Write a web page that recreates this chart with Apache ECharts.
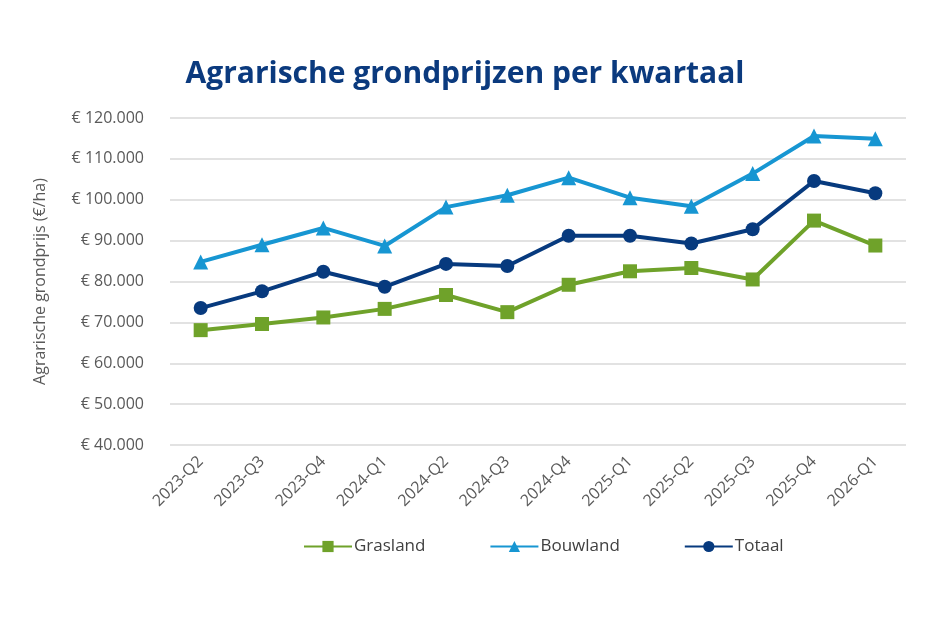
<!DOCTYPE html>
<html>
<head>
<meta charset="utf-8">
<script src="https://cdn.jsdelivr.net/npm/echarts@6/dist/echarts.min.js"></script>
<style>
  html, body { margin: 0; padding: 0; background: #fff; }
  #chart { width: 930px; height: 620px; }
</style>
</head>
<body>
<div id="chart"></div>
<script>
const kwartalen = ['2023-Q2', '2023-Q3', '2023-Q4', '2024-Q1', '2024-Q2', '2024-Q3',
    '2024-Q4', '2025-Q1', '2025-Q2', '2025-Q3', '2025-Q4', '2026-Q1'];
const grasland = [68100, 69600, 71200, 73300, 76700, 72500, 79200, 82500, 83300, 80500, 94900, 88800];
const bouwland = [84800, 89000, 93100, 88700, 98200, 101100, 105400, 100500, 98400, 106400, 115600, 114900];
const totaal = [73500, 77600, 82400, 78700, 84300, 83800, 91200, 91200, 89300, 92800, 104600, 101600];

const fontFam = '"Open Sans", "Noto Sans", sans-serif';

const chart = echarts.init(document.getElementById('chart'));

function lijn(name, data, color, symbol, size) {
    return {
        name: name,
        type: 'line',
        data: data,
        symbol: symbol,
        symbolSize: size,
        lineStyle: { color: color, width: 4 },
        itemStyle: { color: color },
        emphasis: { disabled: true }
    };
}

chart.setOption({
    animation: false,
    title: {
        text: 'Agrarische grondprijzen per kwartaal',
        left: 'center',
        top: 54,
        textStyle: { color: '#0b3a7e', fontSize: 30, fontWeight: 'bold', fontFamily: fontFam }
    },
    grid: { left: 170, right: 24, top: 118, bottom: 175 },
    legend: {
        bottom: 60,
        left: 298,
        itemWidth: 48,
        itemHeight: 14,
        itemGap: 64,
        textStyle: { color: '#404040', fontSize: 17, fontFamily: fontFam, padding: [0, 0, 0, -3] },
        data: ['Grasland', 'Bouwland', 'Totaal']
    },
    xAxis: {
        type: 'category',
        data: kwartalen,
        boundaryGap: true,
        axisLine: { show: false },
        axisTick: { show: false },
        axisLabel: {
            rotate: 45,
            color: '#595959',
            fontSize: 16,
            fontFamily: fontFam,
            margin: 14,
            interval: 0
        }
    },
    yAxis: {
        type: 'value',
        min: 40000,
        max: 120000,
        interval: 10000,
        name: 'Agrarische grondprijs (€/ha)',
        nameLocation: 'middle',
        nameGap: 122,
        nameTextStyle: { color: '#595959', fontSize: 16, fontFamily: fontFam },
        axisLabel: {
            color: '#595959',
            fontSize: 16,
            fontFamily: fontFam,
            margin: 26,
            formatter: v => '€ ' + v.toLocaleString('nl-NL')
        },
        splitLine: { lineStyle: { color: '#d9d9d9', width: 1.5 } }
    },
    series: [
        lijn('Grasland', grasland, '#6fa22a', 'rect', 14),
        lijn('Bouwland', bouwland, '#1796d2', 'triangle', 15),
        lijn('Totaal', totaal, '#073a7e', 'circle', 14)
    ]
});

window.addEventListener('resize', () => chart.resize());
</script>
</body>
</html>
